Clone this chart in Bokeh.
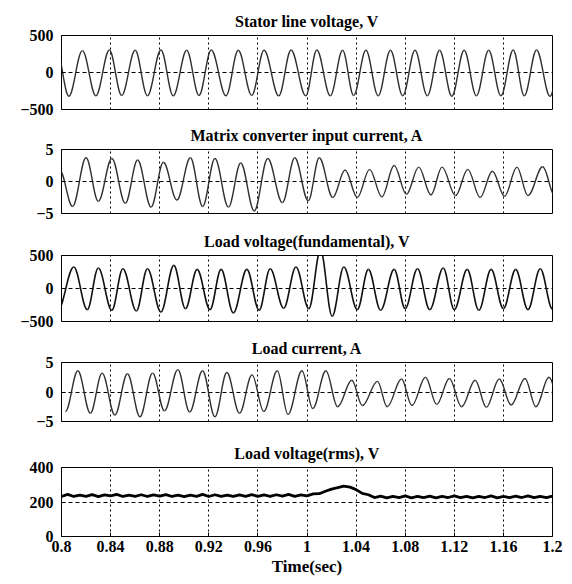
import numpy as np
from bokeh.plotting import figure
from bokeh.layouts import column
from bokeh.models import Range1d, FixedTicker, CustomJSTickFormatter, ColumnDataSource
from bokeh.embed import file_html
from bokeh.resources import INLINE

# ---------------------------------------------------------------- data
time_ticks = [0.8, 0.84, 0.88, 0.92, 0.96, 1.0, 1.04, 1.08, 1.12, 1.16, 1.2]

# Stator line voltage (V): crest / trough instants (s) and levels
stator_peak_t = [0.796, 0.817, 0.839, 0.860, 0.881, 0.902, 0.922, 0.944, 0.965, 0.987,
                 1.008, 1.029, 1.048, 1.068, 1.088, 1.108, 1.128, 1.148, 1.168, 1.187, 1.208]
stator_peak_v = [300, 295, 305, 300, 305, 300, 305, 300, 300, 305,
                 305, 300, 300, 300, 300, 300, 300, 300, 305, 305, 300]
stator_trough_t = [0.806, 0.828, 0.849, 0.870, 0.891, 0.912, 0.934, 0.955, 0.977, 0.999,
                   1.019, 1.038, 1.058, 1.078, 1.098, 1.118, 1.138, 1.158, 1.177, 1.198]
stator_trough_v = [-320, -315, -310, -315, -315, -310, -315, -310, -315, -315,
                   -315, -310, -315, -315, -315, -320, -315, -315, -315, -320]

# Matrix converter input current (A)
mc_peak_t = [0.7985, 0.820, 0.841, 0.862, 0.883, 0.905, 0.925, 0.946, 0.968, 0.990,
             1.010, 1.031, 1.051, 1.071, 1.091, 1.110, 1.131, 1.151, 1.171, 1.192]
mc_peak_v = [1.8, 3.7, 3.6, 3.35, 3.0, 3.7, 3.6, 2.9, 3.6, 3.7,
             3.7, 1.8, 1.9, 2.5, 2.25, 2.25, 1.9, 1.6, 2.25, 2.3]
mc_trough_t = [0.809, 0.830, 0.852, 0.873, 0.894, 0.915, 0.936, 0.957, 0.980, 1.001,
               1.021, 1.041, 1.061, 1.081, 1.101, 1.121, 1.141, 1.161, 1.180, 1.202]
mc_trough_v = [-3.9, -3.1, -3.4, -4.0, -2.9, -3.9, -4.0, -4.6, -3.3, -3.0,
               -2.5, -2.5, -2.4, -2.0, -2.1, -2.2, -2.5, -2.3, -2.2, -2.3]

# Load voltage, fundamental (V)
lv_peak_t = [0.810, 0.830, 0.850, 0.870, 0.8915, 0.9105, 0.930, 0.951, 0.970, 0.991,
             1.011, 1.030, 1.050, 1.071, 1.090, 1.111, 1.1305, 1.150, 1.170, 1.190]
lv_peak_v = [325, 310, 300, 300, 350, 290, 290, 290, 300, 325,
             580, 325, 290, 290, 300, 310, 290, 290, 290, 300]
lv_trough_t = [0.797, 0.821, 0.841, 0.861, 0.881, 0.901, 0.921, 0.940, 0.961, 0.981,
               1.0015, 1.0205, 1.041, 1.060, 1.080, 1.100, 1.120, 1.140, 1.160, 1.180, 1.200]
lv_trough_v = [-330, -320, -330, -340, -355, -305, -320, -370, -330, -300,
               -305, -420, -320, -330, -305, -320, -320, -330, -305, -320, -310]

# Load current (A)
lc_peak_t = [0.8133, 0.8331, 0.8537, 0.8742, 0.8948, 0.9149, 0.9347, 0.9552, 0.9758, 0.9959,
             1.0154, 1.0365, 1.0574, 1.0770, 1.0965, 1.1160, 1.1370, 1.1566, 1.1776, 1.1971]
lc_peak_v = [3.6, 3.2, 3.1, 3.2, 3.8, 3.6, 3.3, 2.9, 3.6, 3.6,
             3.6, 2.0, 1.8, 2.2, 2.5, 2.3, 2.0, 2.2, 2.3, 2.5]
lc_trough_t = [0.8032, 0.8235, 0.8435, 0.8639, 0.8839, 0.9044, 0.9250, 0.9450, 0.9648, 0.9845,
               1.0047, 1.0249, 1.0451, 1.0653, 1.0855, 1.1057, 1.1259, 1.1461, 1.1663, 1.1865, 1.2067]
lc_trough_v = [-3.3, -3.6, -3.9, -4.2, -3.2, -3.4, -4.2, -3.6, -3.3, -3.8,
               -2.8, -2.5, -2.3, -2.5, -2.3, -2.1, -2.5, -2.6, -2.2, -2.5, -2.3]

# Load voltage, rms (V), sampled every 5 ms
rms_t = [round(0.8 + 0.005 * i, 3) for i in range(81)]
rms_v = [232, 244, 232, 240, 233, 243, 231, 241, 235, 244,
         232, 240, 233, 242, 232, 241, 234, 243, 232, 240,
         231, 240, 233, 244, 232, 242, 233, 240, 232, 241,
         233, 243, 232, 241, 233, 242, 234, 244, 233, 241,
         236, 247, 248, 262, 275, 283, 292, 286, 272, 250,
         242, 226, 234, 224, 233, 225, 235, 224, 233, 225,
         234, 224, 232, 226, 235, 225, 233, 224, 233, 226,
         235, 224, 232, 225, 234, 226, 235, 225, 233, 226, 234]

# ---------------------------------------------------------------- styling
FONT = "Liberation Serif"
WAVE_COLOR = "#303030"
K = 1.0 - 2.0 / np.pi   # bezier handle fraction giving a half-cosine between extrema


def wave_source(peak_t, peak_v, trough_t, trough_v):
    t = np.array(peak_t + trough_t, dtype=float)
    v = np.array(peak_v + trough_v, dtype=float)
    order = np.argsort(t)
    t, v = t[order], v[order]
    dt = np.diff(t)
    return ColumnDataSource(dict(
        x0=t[:-1], y0=v[:-1], x1=t[1:], y1=v[1:],
        cx0=t[:-1] + K * dt, cy0=v[:-1], cx1=t[1:] - K * dt, cy1=v[1:]))


def panel(title, lo, hi, yticks, height, top, bottom, last=False):
    p = figure(width=572, height=height, x_range=Range1d(0.8, 1.2), y_range=Range1d(lo, hi),
               output_backend="svg", toolbar_location=None,
               min_border_left=61, min_border_right=20,
               min_border_top=top, min_border_bottom=bottom)
    p.title.text = title
    p.title.align = "center"
    p.title.text_font = FONT
    p.title.text_font_style = "bold"
    p.title.text_font_size = "16px"
    p.title.text_color = "black"
    p.title.standoff = 12

    p.outline_line_color = "black"
    p.outline_line_width = 1
    p.background_fill_color = "white"
    p.border_fill_color = "white"

    p.xaxis.ticker = FixedTicker(ticks=time_ticks)
    p.yaxis.ticker = FixedTicker(ticks=yticks)
    for ax in (p.xaxis[0], p.yaxis[0]):
        ax.axis_line_color = None
        ax.major_tick_in = 4
        ax.major_tick_out = 0
        ax.major_tick_line_color = "black"
        ax.minor_tick_line_color = None
        ax.major_label_text_font = FONT
        ax.major_label_text_font_style = "bold"
        ax.major_label_text_font_size = "16px"
        ax.major_label_text_color = "black"
    p.yaxis.major_label_standoff = 8

    if last:
        p.xaxis.formatter = CustomJSTickFormatter(
            code="return tick.toFixed(2).replace(/0+$/, '').replace(/\\.$/, '');")
        p.xaxis.major_label_standoff = 4
        p.xaxis.axis_label = "Time(sec)"
        p.xaxis.axis_label_text_font = FONT
        p.xaxis.axis_label_text_font_style = "bold"
        p.xaxis.axis_label_text_font_size = "17px"
        p.xaxis.axis_label_text_color = "black"
        p.xaxis.axis_label_standoff = 2
    else:
        p.xaxis.visible = False

    p.xgrid.grid_line_color = "black"
    p.xgrid.grid_line_dash = "2 3"
    p.xgrid.grid_line_width = 1
    p.ygrid.grid_line_color = "black"
    p.ygrid.grid_line_dash = "4 3"
    p.ygrid.grid_line_width = 1
    return p


def draw_wave(p, src, color=WAVE_COLOR, width=1.4):
    p.bezier(x0="x0", y0="y0", x1="x1", y1="y1", cx0="cx0", cy0="cy0", cx1="cx1", cy1="cy1",
             source=src, line_color=color, line_width=width)


p1 = panel("Stator line voltage, V", -500, 500, [-500, 0, 500], 117, 35, 8)
draw_wave(p1, wave_source(stator_peak_t, stator_peak_v, stator_trough_t, stator_trough_v))

p2 = panel("Matrix converter input current, A", -5, 5, [-5, 0, 5], 104, 32, 8)
draw_wave(p2, wave_source(mc_peak_t, mc_peak_v, mc_trough_t, mc_trough_v))

p3 = panel("Load voltage(fundamental), V", -500, 500, [-500, 0, 500], 108, 34, 8)
draw_wave(p3, wave_source(lv_peak_t, lv_peak_v, lv_trough_t, lv_trough_v), "#111111", 1.6)

p4 = panel("Load current, A", -5, 5, [-5, 0, 5], 100, 33, 8)
draw_wave(p4, wave_source(lc_peak_t, lc_peak_v, lc_trough_t, lc_trough_v))

p5 = panel("Load voltage(rms), V", 0, 400, [0, 200, 400], 155, 38, 48, last=True)
p5.line(rms_t, rms_v, line_color="black", line_width=2.8, line_join="round")

layout = column(p1, p2, p3, p4, p5, spacing=0)

with open("out.html", "w") as f:
    f.write(file_html(layout, INLINE))
